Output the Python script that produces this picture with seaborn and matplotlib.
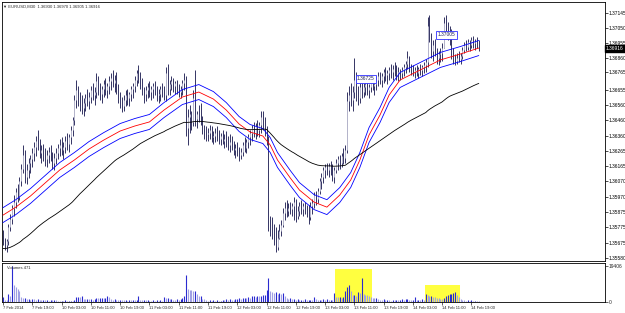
import numpy as np
import pandas as pd
import matplotlib
matplotlib.use("Agg")
import matplotlib.pyplot as plt
from matplotlib.patches import Rectangle
import seaborn as sns

# ---------------- data ----------------
header_text = "EURUSD,M30  1.36930 1.36970 1.36905 1.36916"
volume_title = "Volumes 471"
first_open = 1.3572

high = [
    1.3576, 1.3571, 1.3570, 1.3580, 1.3586, 1.3592, 1.3598, 1.3603, 1.3605, 1.3610,
    1.3618, 1.3630, 1.3627, 1.3618, 1.3622, 1.3624, 1.3628, 1.3632, 1.3636, 1.3640,
    1.3634, 1.3630, 1.3631, 1.3628, 1.3627, 1.3629, 1.3630, 1.3626, 1.3625, 1.3628,
    1.3631, 1.3634, 1.3635, 1.3632, 1.3636, 1.3638, 1.3637, 1.3642, 1.3648, 1.3662,
    1.3672, 1.3668, 1.3664, 1.3662, 1.3660, 1.3663, 1.3666, 1.3664, 1.3668, 1.3670,
    1.3667, 1.3676, 1.3674, 1.3670, 1.3668, 1.3672, 1.3673, 1.3670, 1.3674, 1.3676,
    1.3678, 1.3675, 1.3677, 1.3669, 1.3664, 1.3661, 1.3662, 1.3665, 1.3666, 1.3664,
    1.3668, 1.3670, 1.3674, 1.3678, 1.3681, 1.3677, 1.3673, 1.3667, 1.3668, 1.3670,
    1.3671, 1.3668, 1.3670, 1.3671, 1.3668, 1.3666, 1.3668, 1.3670, 1.3668, 1.3680,
    1.3682, 1.3672, 1.3674, 1.3673, 1.3671, 1.3672, 1.3669, 1.3668, 1.3672, 1.3676,
    1.3674, 1.3653, 1.3656, 1.3652, 1.3665, 1.3678, 1.3652, 1.3656, 1.3657, 1.3649,
    1.3643, 1.3642, 1.3641, 1.3643, 1.3642, 1.3639, 1.3641, 1.3642, 1.3640, 1.3638,
    1.3640, 1.3637, 1.3639, 1.3636, 1.3637, 1.3636, 1.3633, 1.3631, 1.3632, 1.3629,
    1.3628, 1.3632, 1.3635, 1.3634, 1.3637, 1.3640, 1.3643, 1.3645, 1.3644, 1.3646,
    1.3645, 1.3652, 1.3652, 1.3648, 1.3642, 1.3636, 1.3585, 1.3584, 1.3580, 1.3578,
    1.3576, 1.3580, 1.3582, 1.3590, 1.3594, 1.3595, 1.3593, 1.3594, 1.3593, 1.3597,
    1.3596, 1.3591, 1.3594, 1.3595, 1.3593, 1.3594, 1.3592, 1.3592, 1.3594, 1.3596,
    1.3600, 1.3601, 1.3603, 1.3609, 1.3612, 1.3616, 1.3618, 1.3619, 1.3619, 1.3620,
    1.3618, 1.3616, 1.3621, 1.3623, 1.3624, 1.3625, 1.3628, 1.3630, 1.3664, 1.3668,
    1.3670, 1.3668, 1.3686, 1.3677, 1.3668, 1.3670, 1.3672, 1.3670, 1.3672, 1.3671,
    1.3669, 1.3673, 1.3674, 1.3671, 1.3674, 1.3677, 1.3677, 1.3676, 1.3679, 1.3680,
    1.3678, 1.3680, 1.3682, 1.3681, 1.3683, 1.3681, 1.3680, 1.3679, 1.3680, 1.3682,
    1.3684, 1.3690, 1.3687, 1.3682, 1.3681, 1.3680, 1.3681, 1.3680, 1.3682, 1.3681,
    1.3683, 1.3685, 1.3712, 1.3713, 1.3702, 1.3697, 1.3698, 1.3692, 1.3690, 1.3692,
    1.3695, 1.3712, 1.3713, 1.3709, 1.3706, 1.3704, 1.3692, 1.3688, 1.3689, 1.3690,
    1.3689, 1.3693, 1.3696, 1.3697, 1.3698, 1.3697, 1.3699, 1.3700, 1.3698, 1.3699, 1.3697,
]

low = [
    1.3566, 1.3563, 1.3562, 1.3566, 1.3575, 1.3580, 1.3585, 1.3590, 1.3594, 1.3595,
    1.3604, 1.3612, 1.3606, 1.3605, 1.3609, 1.3612, 1.3616, 1.3620, 1.3623, 1.3627,
    1.3622, 1.3619, 1.3620, 1.3617, 1.3616, 1.3619, 1.3620, 1.3615, 1.3614, 1.3618,
    1.3621, 1.3623, 1.3624, 1.3621, 1.3625, 1.3627, 1.3626, 1.3631, 1.3636, 1.3643,
    1.3654, 1.3655, 1.3652, 1.3650, 1.3649, 1.3652, 1.3655, 1.3653, 1.3657, 1.3659,
    1.3656, 1.3660, 1.3662, 1.3659, 1.3657, 1.3661, 1.3662, 1.3660, 1.3663, 1.3665,
    1.3667, 1.3664, 1.3663, 1.3657, 1.3654, 1.3651, 1.3652, 1.3655, 1.3656, 1.3655,
    1.3658, 1.3660, 1.3664, 1.3668, 1.3670, 1.3666, 1.3662, 1.3657, 1.3658, 1.3660,
    1.3661, 1.3659, 1.3660, 1.3662, 1.3658, 1.3657, 1.3658, 1.3661, 1.3659, 1.3658,
    1.3662, 1.3662, 1.3665, 1.3664, 1.3663, 1.3663, 1.3661, 1.3660, 1.3662, 1.3665,
    1.3636, 1.3630, 1.3638, 1.3640, 1.3642, 1.3642, 1.3641, 1.3645, 1.3643, 1.3637,
    1.3634, 1.3633, 1.3633, 1.3634, 1.3632, 1.3631, 1.3632, 1.3633, 1.3631, 1.3630,
    1.3631, 1.3628, 1.3629, 1.3627, 1.3626, 1.3627, 1.3624, 1.3622, 1.3623, 1.3620,
    1.3621, 1.3623, 1.3626, 1.3625, 1.3628, 1.3630, 1.3633, 1.3635, 1.3634, 1.3636,
    1.3635, 1.3638, 1.3640, 1.3636, 1.3630, 1.3575, 1.3572, 1.3570, 1.3566, 1.3562,
    1.3563, 1.3570, 1.3572, 1.3578, 1.3582, 1.3584, 1.3585, 1.3586, 1.3585, 1.3582,
    1.3581, 1.3583, 1.3585, 1.3586, 1.3585, 1.3586, 1.3584, 1.3580, 1.3582, 1.3586,
    1.3590, 1.3592, 1.3593, 1.3599, 1.3602, 1.3606, 1.3609, 1.3611, 1.3610, 1.3611,
    1.3607, 1.3606, 1.3612, 1.3614, 1.3615, 1.3616, 1.3618, 1.3619, 1.3625, 1.3652,
    1.3655, 1.3652, 1.3660, 1.3658, 1.3656, 1.3657, 1.3660, 1.3661, 1.3662, 1.3662,
    1.3660, 1.3664, 1.3665, 1.3662, 1.3665, 1.3668, 1.3669, 1.3667, 1.3670, 1.3671,
    1.3669, 1.3672, 1.3673, 1.3672, 1.3674, 1.3672, 1.3671, 1.3672, 1.3673, 1.3674,
    1.3676, 1.3679, 1.3677, 1.3675, 1.3674, 1.3673, 1.3674, 1.3673, 1.3675, 1.3674,
    1.3676, 1.3677, 1.3680, 1.3696, 1.3686, 1.3684, 1.3687, 1.3682, 1.3681, 1.3683,
    1.3684, 1.3692, 1.3700, 1.3697, 1.3694, 1.3685, 1.3682, 1.3681, 1.3682, 1.3683,
    1.3682, 1.3685, 1.3689, 1.3690, 1.3691, 1.3690, 1.3692, 1.3692, 1.3691, 1.3692, 1.36905,
]

close = [
    1.3568, 1.3566, 1.3569, 1.3578, 1.3583, 1.3590, 1.3594, 1.3600, 1.3597, 1.3607,
    1.3615, 1.3624, 1.3610, 1.3614, 1.3619, 1.3621, 1.3625, 1.3629, 1.3633, 1.3630,
    1.3625, 1.3627, 1.3623, 1.3621, 1.3624, 1.3626, 1.3622, 1.3619, 1.3622, 1.3625,
    1.3628, 1.3630, 1.3627, 1.3629, 1.3633, 1.3631, 1.3635, 1.3640, 1.3646, 1.3659,
    1.3665, 1.3660, 1.3656, 1.3654, 1.3657, 1.3660, 1.3658, 1.3661, 1.3665, 1.3662,
    1.3664, 1.3671, 1.3666, 1.3663, 1.3666, 1.3669, 1.3665, 1.3668, 1.3671, 1.3673,
    1.3670, 1.3672, 1.3666, 1.3660, 1.3657, 1.3655, 1.3659, 1.3662, 1.3660, 1.3663,
    1.3666, 1.3668, 1.3672, 1.3676, 1.3674, 1.3669, 1.3665, 1.3663, 1.3665, 1.3667,
    1.3664, 1.3666, 1.3668, 1.3665, 1.3662, 1.3663, 1.3666, 1.3664, 1.3662, 1.3676,
    1.3666, 1.3669, 1.3671, 1.3668, 1.3670, 1.3666, 1.3664, 1.3666, 1.3670, 1.3672,
    1.3641, 1.3648, 1.3650, 1.3645, 1.3660, 1.3647, 1.3650, 1.3648, 1.3646, 1.3640,
    1.3639, 1.3637, 1.3638, 1.3640, 1.3635, 1.3636, 1.3638, 1.3636, 1.3634, 1.3636,
    1.3633, 1.3634, 1.3632, 1.3630, 1.3632, 1.3629, 1.3627, 1.3628, 1.3625, 1.3624,
    1.3626, 1.3630, 1.3628, 1.3632, 1.3635, 1.3638, 1.3641, 1.3638, 1.3642, 1.3640,
    1.3643, 1.3648, 1.3644, 1.3640, 1.3634, 1.3581, 1.3578, 1.3574, 1.3570, 1.3565,
    1.3571, 1.3575, 1.3579, 1.3587, 1.3590, 1.3588, 1.3590, 1.3589, 1.3591, 1.3594,
    1.3585, 1.3588, 1.3591, 1.3589, 1.3591, 1.3588, 1.3586, 1.3584, 1.3591, 1.3593,
    1.3598, 1.3596, 1.3601, 1.3607, 1.3610, 1.3614, 1.3616, 1.3614, 1.3617, 1.3615,
    1.3610, 1.3614, 1.3619, 1.3621, 1.3619, 1.3623, 1.3622, 1.3627, 1.3658, 1.3662,
    1.3659, 1.3664, 1.3672, 1.3663, 1.3660, 1.3667, 1.3664, 1.3667, 1.3669, 1.3665,
    1.3667, 1.3671, 1.3668, 1.3669, 1.3672, 1.3674, 1.3672, 1.3674, 1.3677, 1.3675,
    1.3676, 1.3678, 1.3677, 1.3679, 1.3678, 1.3676, 1.3677, 1.3676, 1.3678, 1.3680,
    1.3682, 1.3686, 1.3680, 1.3679, 1.3677, 1.3678, 1.3676, 1.3679, 1.3678, 1.3680,
    1.3681, 1.3683, 1.3706, 1.3699, 1.3690, 1.3694, 1.3690, 1.3686, 1.3688, 1.3689,
    1.3692, 1.3708, 1.3705, 1.3703, 1.3698, 1.3689, 1.3685, 1.3684, 1.3686, 1.3685,
    1.3687, 1.3691, 1.3694, 1.3693, 1.3696, 1.3694, 1.3697, 1.3695, 1.3696, 1.3693, 1.36916,
]

volume = [
    2600, 1300, 1100, 4400, 3000, 19406, 9100, 8300, 6900, 5700,
    2500, 2100, 2300, 1500, 1700, 1300, 1600, 1400, 1200, 1500,
    1300, 1000, 1200, 900, 1100, 800, 1000, 1000, 1100, 900,
    700, 600, 800, 700, 900, 600, 700, 800, 700, 900,
    2600, 2800, 2700, 3000, 1700, 1500, 1600, 1400, 1500, 1300,
    1800, 2000, 1900, 2100, 2200, 2000, 2300, 3400, 2500, 1400,
    1200, 1500, 1300, 1100, 1200, 1000, 900, 1100, 800, 1000,
    900, 1200, 1000, 1100, 3400, 1200, 1000, 1100, 900, 1000,
    800, 700, 1000, 600, 900, 700, 1200, 800, 2600, 2000,
    2400, 1600, 1800, 1300, 1100, 1400, 1200, 1500, 2200, 3100,
    14500, 7200, 6700, 6200, 5700, 5800, 4100, 3100, 3200, 1800,
    1700, 1000, 800, 900, 700, 1000, 800, 900, 700, 800,
    1300, 1100, 1500, 1200, 1400, 1300, 1100, 1500, 1800, 2000,
    1700, 2200, 2400, 2000, 2600, 2300, 3100, 3300, 2900, 3500,
    3200, 3400, 3600, 4000, 6700, 13000, 5700, 5600, 4700, 5200,
    4100, 5100, 4200, 5000, 3400, 1900, 1700, 2000, 1600, 1800,
    1200, 1400, 1000, 1300, 1100, 1500, 900, 1200, 1300, 1200,
    2600, 1400, 1100, 1300, 1200, 1500, 1100, 1400, 1200, 1300,
    1000, 4700, 2600, 2500, 2700, 2400, 2600, 5700, 8300, 9000,
    5700, 3600, 3700, 3100, 5600, 4600, 12900, 4100, 3900, 3600,
    3500, 2600, 2300, 2100, 2400, 1500, 1300, 1100, 1400, 900,
    1200, 1000, 800, 1100, 900, 1300, 1000, 1200, 1500, 1100,
    1400, 1700, 1200, 1000, 1300, 2600, 1200, 1300, 1100, 1400,
    1200, 4100, 3600, 3300, 3500, 2700, 2500, 2300, 2100, 1800,
    1700, 2100, 3000, 3600, 4200, 4500, 4900, 5200, 4000, 2600,
    1500, 1200, 1000, 800, 1100, 700, 900, 600, 800, 500, 471,
]

# envelope centre line (red) at these bars
env_bars = [0, 7, 15, 23, 31, 39, 47, 55, 64, 72, 80, 88, 98, 107, 115, 122, 129, 135,
            142, 146, 150, 157, 162, 170, 177, 184, 190, 195, 200, 206, 211, 217, 228,
            239, 250, 260]
env_mid = [1.35854, 1.35905, 1.35976, 1.36059, 1.36142, 1.36206, 1.36276, 1.36333,
           1.36391, 1.36423, 1.36449, 1.36525, 1.36608, 1.36640, 1.36595, 1.36525,
           1.36436, 1.36385, 1.36359, 1.36302, 1.36206, 1.36091, 1.36014, 1.35937,
           1.35905, 1.35982, 1.36078, 1.36206, 1.36365, 1.36493, 1.36621, 1.36717,
           1.36781, 1.36845, 1.36883, 1.36921]
envelope_dev = 0.00035
slow_span = 100
slow_seed = 1.3564

price_ticks = [1.37145, 1.37050, 1.36955, 1.36860, 1.36765, 1.36655, 1.36560,
               1.36460, 1.36360, 1.36265, 1.36165, 1.36070, 1.35970, 1.35875,
               1.35775, 1.35675, 1.35580]
last_price = 1.36916
volume_ticks = [0, 19406]

date_bars = [0, 16, 32, 48, 64, 80, 96, 112, 128, 144, 160, 176, 192, 208, 224, 240, 256]
date_labels = ["7 Feb 2014", "7 Feb 19:00", "10 Feb 03:00", "10 Feb 11:00",
               "10 Feb 19:00", "11 Feb 03:00", "11 Feb 11:00", "11 Feb 19:00",
               "12 Feb 03:00", "12 Feb 11:00", "12 Feb 19:00", "13 Feb 03:00",
               "13 Feb 11:00", "13 Feb 19:00", "14 Feb 03:00", "14 Feb 11:00",
               "14 Feb 19:00"]

price_labels = [(193.5, 1.36725, "1.36725"), (237.5, 1.37005, "1.37005")]
highlights = [(181.5, 201.5, 18000), (230.5, 249.5, 9000)]

# ---------------- derived series ----------------
idx = np.arange(len(close))
c = np.array(close)
o = np.r_[first_open, c[:-1]]
h = np.array(high)
l = np.array(low)
v = np.array(volume)
eb = np.array(env_bars)
em = np.array(env_mid)
upper = em * (1 + envelope_dev)
lower = em * (1 - envelope_dev)
cs = pd.Series(c)
slow = pd.concat([pd.Series([slow_seed]), cs]).ewm(span=slow_span, adjust=False).mean().iloc[1:].values

# ---------------- figure ----------------
sns.set_style("white")
plt.rcParams['font.family'] = ['Liberation Sans', 'DejaVu Sans']
FS = 3.5
FSX = 3.0
W, H = 625, 313
fig = plt.figure(figsize=(W / 100, H / 100), dpi=100)
px = 1.83
x0 = -(3 - 2) / px
x1 = x0 + 603 / px

ax = fig.add_axes([2 / W, (H - 261) / H, 603 / W, 259 / H])
axv = fig.add_axes([2 / W, (H - 302) / H, 603 / W, 39 / H])

dark = "#3a3a68"
light = "#b4b4ca"
up = c >= o
ax.vlines(idx, l, h, colors=dark, lw=0.72, zorder=3)
ax.vlines(idx, np.minimum(o, c), np.maximum(o, c),
          colors=np.where(up, light, dark), lw=0.72, zorder=4)

sns.lineplot(x=eb, y=upper, ax=ax, color="#0000ff", lw=0.6, zorder=5)
sns.lineplot(x=eb, y=em, ax=ax, color="#ff0000", lw=0.6, zorder=5)
sns.lineplot(x=eb, y=lower, ax=ax, color="#0000ff", lw=0.6, zorder=5)
sns.lineplot(x=idx, y=slow, ax=ax, color="#000000", lw=0.6, zorder=5)

for bx, py, txt in price_labels:
    ax.text(bx, py, txt, fontsize=FS, color="#20205a", va="center", ha="left", zorder=6,
            bbox=dict(boxstyle="square,pad=0.3", fc="white", ec="#3030ff", lw=0.6))

ax.set_xlim(x0, x1)
ax.set_ylim(1.35561, 1.37215)
ax.yaxis.tick_right()
ax.set_yticks(price_ticks)
ax.set_yticklabels([f"{t:.5f}" for t in price_ticks])
ax.tick_params(axis="y", right=True, length=2, width=0.5, labelsize=FS, pad=0.6, colors="black")
ax.set_xticks([])
ax.text(1.0015, last_price, f"{last_price:.5f}", transform=ax.get_yaxis_transform(),
        fontsize=FS, color="white", va="center", ha="left", zorder=10,
        bbox=dict(boxstyle="square,pad=0.2", fc="black", ec="black"))
fig.text(3 / W, 1 - 6.5 / H, "\u25BC " + header_text, fontsize=FSX, va="center", ha="left")

# volume panel
for a0, a1, top in highlights:
    axv.add_patch(Rectangle((a0, 0), a1 - a0, top, fc="#ffff40", ec="none", zorder=1))
vprev = np.r_[0, v[:-1]]
vcol = np.where(v > vprev, "#2b2bd0", "#a0a0e4")
axv.vlines(idx, 0, v, colors=vcol, lw=0.8, zorder=3)
axv.set_xlim(x0, x1)
axv.set_ylim(0, 21000)
axv.yaxis.tick_right()
axv.set_yticks(volume_ticks)
axv.set_yticklabels([str(t) for t in volume_ticks])
axv.tick_params(axis="y", right=True, length=2, width=0.5, labelsize=FS, pad=0.6)
axv.set_xticks(date_bars)
axv.set_xticklabels(date_labels, ha="left")
axv.tick_params(axis="x", bottom=True, length=2, width=0.5, labelsize=FSX, pad=1)
axv.text(0.008, 0.93, volume_title, transform=axv.transAxes, fontsize=FSX, va="top", ha="left")

for a in (ax, axv):
    a.set_xlabel("")
    a.set_ylabel("")
    for s in a.spines.values():
        s.set_color("black")
        s.set_linewidth(0.6)

fig.savefig("out.png", dpi=100)
